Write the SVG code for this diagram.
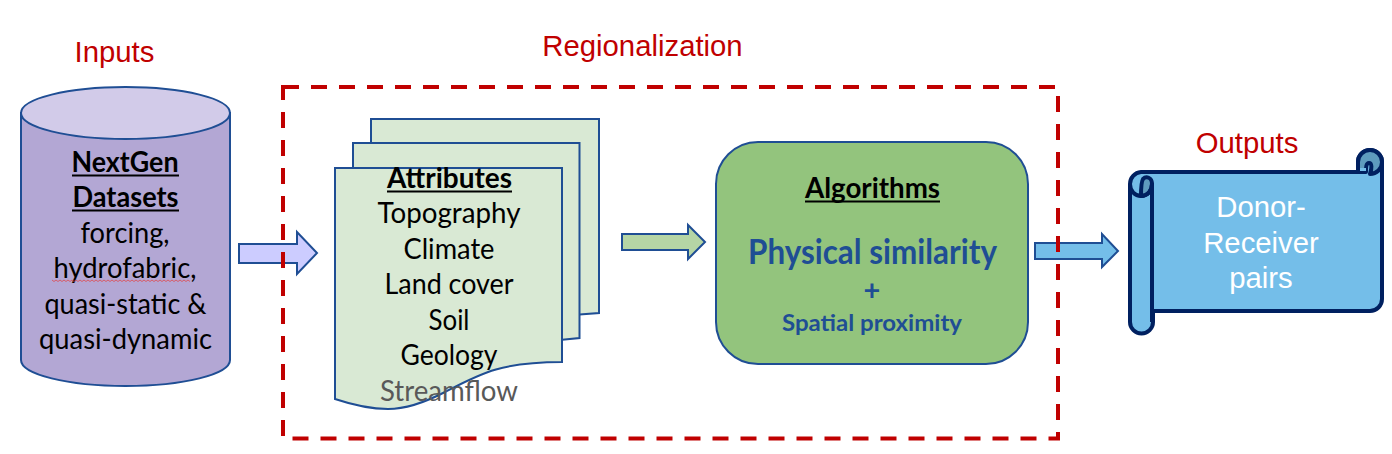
<svg xmlns="http://www.w3.org/2000/svg" width="1392" height="454" viewBox="0 0 1392 454">
<style>
.c{font-family:Lato,"Open Sans",sans-serif;font-size:29px;fill:#000;text-anchor:middle}
.b{font-weight:700}
.a{font-family:"Liberation Sans",Arial,sans-serif;font-size:29.3px;text-anchor:middle}
.red{fill:#c00000}
.w{fill:#fff}
.blue{fill:#1f4e94;font-weight:700}
.s{stroke:#1f4e94;stroke-width:2}
.ul{stroke:#000;stroke-width:2.2;fill:none}
.sc{stroke:#002060;stroke-width:4;stroke-linejoin:round}
</style>
<rect width="1392" height="454" fill="#fff"/>
<g id="label-inputs"><text class="a red" x="114.500" y="62">Inputs</text></g>
<g id="label-regionalization"><text class="a red" x="642.500" y="56">Regionalization</text></g>
<g id="label-outputs"><text class="a red" x="1247" y="153">Outputs</text></g>
<g id="connectors">
<path class="s" fill="#ccccff" d="M239 244H297V232L317 253L297 274V263H239Z"/>
<path class="s" fill="#b5d5a5" d="M622 234H688V225L705 242L688 259V250H622Z"/>
<path class="s" fill="#74bee9" d="M1035 243H1102V234L1118 251L1102 267V259H1035Z"/>
</g>
<g id="inputs">
<path class="s" fill="#b3a7d4" d="M21 113V360A104.500 26 0 0 0 230 360V113Z"/>
<ellipse class="s" fill="#d2cbe9" cx="125.500" cy="113" rx="104.500" ry="26"/>
<text class="c b" x="125" y="172" textLength="107" lengthAdjust="spacingAndGlyphs">NextGen</text>
<path class="ul" d="M72 175.500H179"/>
<text class="c b" x="125.500" y="207" textLength="106" lengthAdjust="spacingAndGlyphs">Datasets</text>
<path class="ul" d="M72 210.500H179"/>
<text class="c" x="125" y="243" textLength="89" lengthAdjust="spacingAndGlyphs">forcing,</text>
<text class="c" x="125" y="278" textLength="143" lengthAdjust="spacingAndGlyphs">hydrofabric,</text>
<path d="M52 280l2 1.500 2-1.500 2 1.500 2-1.500 2 1.500 2-1.500 2 1.500 2-1.500 2 1.500 2-1.500 2 1.500 2-1.500 2 1.500 2-1.500 2 1.500 2-1.500 2 1.500 2-1.500 2 1.500 2-1.500 2 1.500 2-1.500 2 1.500 2-1.500 2 1.500 2-1.500 2 1.500 2-1.500 2 1.500 2-1.500 2 1.500 2-1.500 2 1.500 2-1.500 2 1.500 2-1.500 2 1.500 2-1.500 2 1.500 2-1.500 2 1.500 2-1.500 2 1.500 2-1.500 2 1.500 2-1.500 2 1.500 2-1.500 2 1.500 2-1.500 2 1.500 2-1.500 2 1.500 2-1.500 2 1.500 2-1.500 2 1.500 2-1.500 2 1.500 2-1.500 2 1.500 2-1.500 2 1.500 2-1.500 2 1.500 2-1.500 2 1.500 2-1.500 2 1.500" fill="none" stroke="#e0474c" stroke-width="0.800"/>
<text class="c" x="125.500" y="314" textLength="162" lengthAdjust="spacingAndGlyphs">quasi-static &amp;</text>
<text class="c" x="125.500" y="349" textLength="173" lengthAdjust="spacingAndGlyphs">quasi-dynamic</text>
</g>
<g id="attributes">
<path class="s" fill="#d9e9d4" d="M371 119H599V313L560 316V200H371Z"/>
<path class="s" fill="#d9e9d4" d="M353 143H579.500V338L550 341V200H353Z"/>
<path class="s" fill="#d9e9d4" d="M335 168H562V362C500 362 480 374 445 392C420 405 400 409 388 409C368 409 350 404 335 399Z"/>
<text class="c b" x="449.500" y="188" textLength="125" lengthAdjust="spacingAndGlyphs">Attributes</text>
<path class="ul" d="M387 191.500H512"/>
<text class="c" x="449" y="223" textLength="143" lengthAdjust="spacingAndGlyphs">Topography</text>
<text class="c" x="449" y="259" textLength="91" lengthAdjust="spacingAndGlyphs">Climate</text>
<text class="c" x="449" y="294" textLength="129" lengthAdjust="spacingAndGlyphs">Land cover</text>
<text class="c" x="449" y="330" textLength="41" lengthAdjust="spacingAndGlyphs">Soil</text>
<text class="c" x="449" y="365" textLength="97" lengthAdjust="spacingAndGlyphs">Geology</text>
<text class="c" x="449" y="401" textLength="138" lengthAdjust="spacingAndGlyphs" style="fill:#595959">Streamflow</text>
</g>
<g id="algorithms">
<rect class="s" fill="#93c47d" x="716" y="142" width="312" height="222" rx="42" ry="42"/>
<text class="c b" x="872.500" y="198" textLength="135" lengthAdjust="spacingAndGlyphs">Algorithms</text>
<path class="ul" d="M805 201.500H940"/>
<text class="c blue" x="872.500" y="264" style="font-size:34px" textLength="249" lengthAdjust="spacingAndGlyphs">Physical similarity</text>
<text class="c blue" x="872" y="300" style="font-size:29px">+</text>
<text class="c blue" x="872" y="331" style="font-size:22.500px" textLength="180" lengthAdjust="spacingAndGlyphs">Spatial proximity</text>
</g>
<g id="outputs">
<path class="sc" fill="#74bee9" d="M1153 311H1370A12 12 0 0 0 1382 299V162A12 12 0 0 0 1358 162V172H1141A12 12 0 0 0 1130 184V322A11.500 11.500 0 0 0 1153 322Z"/>
<path class="sc" fill="#5e9bbe" d="M1358 172V162A12 12 0 0 1 1382 162A12 12 0 0 1 1370 174C1372 168 1372 163 1369 163C1366 163 1366 168 1366 172Z"/>
<rect x="1360" y="168" width="6" height="3" fill="#74bee9"/>
<path class="sc" fill="#5e9bbe" d="M1141 196C1148 196 1152 190 1152 184C1152 177 1146 176 1143 179C1141 182 1141 190 1141 196Z"/>
<path class="sc" fill="none" d="M1130 184C1130 191 1135 196 1141 196C1148 196 1152 190 1152 184V322"/>
<text class="a w" x="1261" y="217">Donor-</text>
<text class="a w" x="1261" y="253">Receiver</text>
<text class="a w" x="1261" y="288">pairs</text>
</g>
<g id="regionalization">
<rect x="283" y="87" width="775" height="351.500" fill="none" stroke="#c00000" stroke-width="4" stroke-dasharray="16 12"/>
</g>
</svg>
